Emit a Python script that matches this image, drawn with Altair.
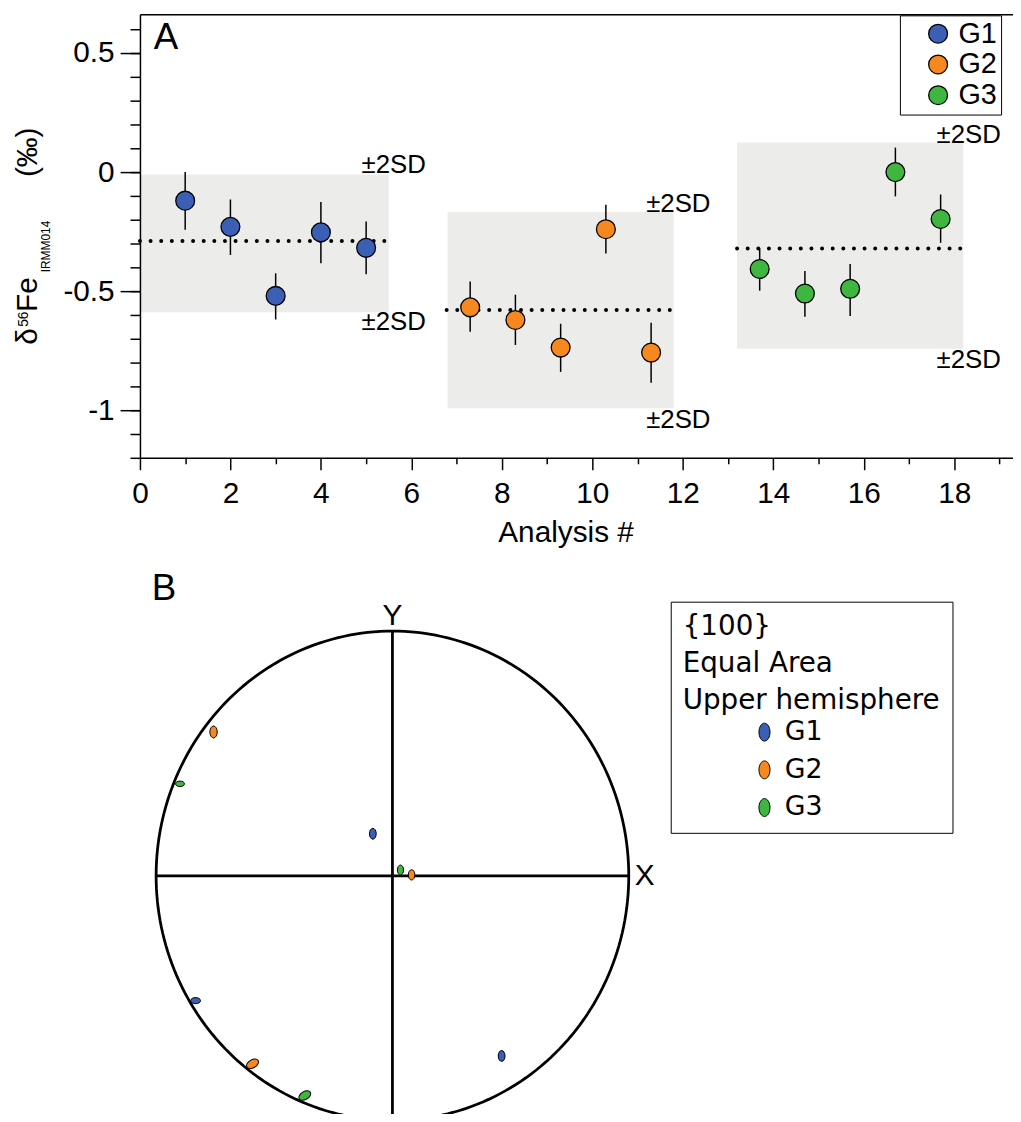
import altair as alt
import numpy as np
import pandas as pd

FONT = "Liberation Sans"
groups = ["G1", "G2", "G3"]
group_colors = ["#3c5fb6", "#f5891f", "#3fb63f"]

# ---------------- Panel A data ----------------
analysis_x = [1, 2, 3, 4, 5, 7.3, 8.3, 9.3, 10.3, 11.3, 13.7, 14.7, 15.7, 16.7, 17.7]
delta56 = [-0.12, -0.23, -0.52, -0.253, -0.318,
           -0.568, -0.621, -0.737, -0.24, -0.758,
           -0.407, -0.51, -0.49, 0.0, -0.197]
err_hi = [0.0, -0.115, -0.425, -0.126, -0.207,
          -0.46, -0.515, -0.637, -0.137, -0.633,
          -0.32, -0.415, -0.386, 0.103, -0.094]
err_lo = [-0.242, -0.348, -0.619, -0.383, -0.429,
          -0.671, -0.726, -0.839, -0.342, -0.885,
          -0.498, -0.608, -0.604, -0.102, -0.297]
point_group = ["G1"] * 5 + ["G2"] * 5 + ["G3"] * 5

mean_val = [-0.289, -0.579, -0.321]
mean_x0 = [0, 6.78, 13.2]
mean_x1 = [5.45, 11.78, 18.19]
sd_top = [-0.01, -0.168, 0.124]
sd_bot = [-0.589, -0.992, -0.742]
box_x0 = [0, 6.8, 13.2]
box_x1 = [5.5, 11.8, 18.2]

sd_label_text = ["±2SD"] * 6
sd_label_x = [4.9, 11.19, 17.61, 4.9, 11.19, 17.61]
sd_label_y = [0.028, -0.133, 0.157, -0.630, -1.040, -0.789]

x_major = [0, 2, 4, 6, 8, 10, 12, 14, 16, 18]
x_minor = [1, 3, 5, 7, 9, 11, 13, 15, 17, 19]
y_major = [-1, -0.5, 0, 0.5]
y_minor = [-1.2, -1.1, -1.0, -0.9, -0.8, -0.7, -0.6, -0.5, -0.4, -0.3, -0.2,
           -0.1, 0.0, 0.1, 0.2, 0.3, 0.4, 0.5, 0.6]

# ---------------- Panel B data (stereonet, unit-circle coordinates) ----------------
pole_x = [-0.757, -0.899, -0.083, 0.034, 0.081, -0.833, -0.592, -0.371, 0.462]
pole_y = [0.588, 0.376, 0.172, 0.024, 0.004, -0.510, -0.768, -0.898, -0.736]
pole_group = ["G2", "G3", "G1", "G3", "G2", "G1", "G2", "G3", "G1"]
pole_len = [12, 9, 11, 10, 10.5, 10, 13, 13, 11]
pole_angle = [0, 90, 0, 0, 0, 90, 60, 60, 0]

ELLIPSE = "M0,-1A0.62,1,0,1,1,0,1A0.62,1,0,1,1,0,-1Z"

# ---------------- tables ----------------
pts = pd.DataFrame({"x": analysis_x, "d": delta56, "hi": err_hi, "lo": err_lo,
                    "group": point_group})
boxes_df = pd.DataFrame({"x0": box_x0, "x1": box_x1, "top": sd_top, "bot": sd_bot})
mean_df = pd.DataFrame({"x0": mean_x0, "x1": mean_x1, "m": mean_val})
sd_df = pd.DataFrame({"x": sd_label_x, "y": sd_label_y, "t": sd_label_text})
poles = pd.DataFrame({"px": pole_x, "py": pole_y, "group": pole_group,
                      "sz": [v * v for v in pole_len], "ang": pole_angle})
theta = np.linspace(0, 2 * np.pi, 241)
circle_df = pd.DataFrame({"cx": np.cos(theta), "cy": np.sin(theta), "i": np.arange(241)})
cross_df = pd.DataFrame({"x0": [-1, 0], "x1": [1, 0], "y0": [0, -1], "y1": [0, 1]})

# ---------------- scales ----------------
xA = alt.Scale(domain=[0, 19.3], range=[0, 880], nice=False, zero=False)
yA = alt.Scale(domain=[-1.2, 0.6625], range=[447, 0], nice=False, zero=False)
xB = alt.Scale(domain=[-1, 1], range=[16.3, 492.7], nice=False, zero=False)
yB = alt.Scale(domain=[-1, 1], range=[1115, 621.7], nice=False, zero=False)

common_axis = dict(domainColor="black", tickColor="black", tickWidth=1.5, domainWidth=1.5,
                   grid=False, zindex=1, labelColor="black")

x_axis_major = alt.Axis(orient="bottom", values=x_major, tickSize=12, labelFontSize=30,
                        labelPadding=9, labelFlush=False, labelOverlap=False, format="d",
                        title="Analysis #", titleFontSize=30, titleFontWeight="normal",
                        titleColor="black", titleX=429, titleY=60, titleBaseline="top",
                        **common_axis)
y_axis_major = alt.Axis(orient="left", values=y_major, tickSize=20, labelFontSize=30,
                        labelPadding=6, labelOverlap=False, title=None,
                        labelExpr="datum.value < 0 ? '-' + format(-datum.value, '~g') : format(datum.value, '~g')",
                        **common_axis)
x_axis_minor = alt.Axis(orient="bottom", values=x_minor, tickSize=6, labels=False,
                        domain=False, title=None, tickColor="black", tickWidth=1.5,
                        grid=False, zindex=1)
y_axis_minor = alt.Axis(orient="left", values=y_minor, tickSize=10, labels=False,
                        domain=False, title=None, tickColor="black", tickWidth=1.5,
                        grid=False, zindex=1)
x_axis_top = alt.Axis(orient="top", ticks=False, labels=False, title=None, grid=False,
                      domainColor="black", domainWidth=1.5, zindex=1)

# ---------------- Panel A layers ----------------
boxes = alt.Chart(boxes_df).mark_rect(color="#ececea").encode(
    x=alt.X("x0:Q", scale=xA, axis=x_axis_major),
    x2="x1:Q",
    y=alt.Y("top:Q", scale=yA, axis=y_axis_major),
    y2="bot:Q",
)

means = alt.Chart(mean_df).mark_rule(color="black", strokeWidth=4, strokeDash=[0.01, 10.7],
                                     strokeCap="round").encode(
    x=alt.X("x0:Q", scale=xA, axis=x_axis_minor),
    x2="x1:Q",
    y=alt.Y("m:Q", scale=yA, axis=y_axis_minor),
)

errbars = alt.Chart(pts).mark_rule(color="black", strokeWidth=1.5).encode(
    x=alt.X("x:Q", scale=xA, axis=x_axis_top),
    y=alt.Y("hi:Q", scale=yA, axis=None),
    y2="lo:Q",
)

legendA = alt.Legend(orient="none", legendX=766, legendY=1, title=None,
                     labelFontSize=29, labelFont=FONT, labelColor="black",
                     symbolType="circle", symbolSize=361, symbolStrokeColor="black",
                     symbolStrokeWidth=1.3, symbolOpacity=1, symbolOffset=20, labelOffset=6,
                     rowPadding=1, padding=4, strokeColor="black", fillColor="white")

points = alt.Chart(pts).mark_circle(size=361, stroke="black", strokeWidth=1.3, opacity=1).encode(
    x=alt.X("x:Q", scale=xA, axis=None),
    y=alt.Y("d:Q", scale=yA, axis=None),
    color=alt.Color("group:N", scale=alt.Scale(domain=groups, range=group_colors),
                    legend=legendA),
)

sd_text = alt.Chart(sd_df).mark_text(align="left", baseline="middle", fontSize=26,
                                     font=FONT, color="black").encode(
    x=alt.X("x:Q", scale=xA, axis=None),
    y=alt.Y("y:Q", scale=yA, axis=None),
    text="t:N",
)

label_A = alt.Chart(pd.DataFrame({"t": ["A"]})).mark_text(
    align="left", baseline="alphabetic", fontSize=37, font=FONT, color="black").encode(
    x=alt.value(14), y=alt.value(35), text="t:N")

# y-axis title, composed of pieces (super/subscripts)
title_pieces = [
    ("δ", -104, 333, 30),
    ("56", -113, 315, 14),
    ("Fe", -104, 300, 30),
    ("IRMM014", -91, 260, 12),
    ("(‰)", -104, 164, 30),
]
title_layers = []
for txt, px, py, fs in title_pieces:
    title_layers.append(
        alt.Chart(pd.DataFrame({"t": [txt]})).mark_text(
            align="left", baseline="alphabetic", angle=270, fontSize=fs, font=FONT,
            color="black").encode(x=alt.value(px), y=alt.value(py), text="t:N"))

# ---------------- Panel B layers ----------------
circle = alt.Chart(circle_df).mark_line(color="black", strokeWidth=2.8).encode(
    x=alt.X("cx:Q", scale=xB, axis=None),
    y=alt.Y("cy:Q", scale=yB, axis=None),
    order="i:Q",
)

cross = alt.Chart(cross_df).mark_rule(color="black", strokeWidth=2.8).encode(
    x=alt.X("x0:Q", scale=xB, axis=None),
    x2="x1:Q",
    y=alt.Y("y0:Q", scale=yB, axis=None),
    y2="y1:Q",
)

legendB = alt.Legend(orient="none", legendX=535, legendY=592,
                     title=["{100}", "Equal Area", "Upper hemisphere"],
                     titleFont="DejaVu Sans", titleFontSize=28, titleFontWeight="normal",
                     titleColor="black", titleLineHeight=37, titlePadding=4, titleLimit=500,
                     titleAnchor="start",
                     labelFont="DejaVu Sans", labelFontSize=27, labelColor="black",
                     symbolType=ELLIPSE, symbolSize=324, symbolStrokeColor="black",
                     symbolStrokeWidth=1, symbolOpacity=1, symbolOffset=69, labelOffset=7,
                     rowPadding=10, padding=12, strokeColor="black", fillColor="white")

pole_marks = alt.Chart(poles).mark_point(filled=True, shape=ELLIPSE, stroke="black",
                                         strokeWidth=1, opacity=1).encode(
    x=alt.X("px:Q", scale=xB, axis=None),
    y=alt.Y("py:Q", scale=yB, axis=None),
    color=alt.Color("group:N", scale=alt.Scale(domain=groups, range=group_colors),
                    legend=legendB),
    size=alt.Size("sz:Q", scale=None),
    angle=alt.Angle("ang:Q", scale=None),
)

axis_names = pd.DataFrame({"t": ["Y", "X"], "x": [0, 1], "y": [1, 0]})
label_Y = alt.Chart(axis_names.iloc[[0]]).mark_text(
    align="center", baseline="alphabetic", fontSize=30, font=FONT, color="black", dy=-6).encode(
    x=alt.X("x:Q", scale=xB, axis=None), y=alt.Y("y:Q", scale=yB, axis=None), text="t:N")
label_X = alt.Chart(axis_names.iloc[[1]]).mark_text(
    align="left", baseline="middle", fontSize=30, font=FONT, color="black", dx=6).encode(
    x=alt.X("x:Q", scale=xB, axis=None), y=alt.Y("y:Q", scale=yB, axis=None), text="t:N")

label_B = alt.Chart(pd.DataFrame({"t": ["B"]})).mark_text(
    align="left", baseline="alphabetic", fontSize=37, font=FONT, color="black").encode(
    x=alt.value(12), y=alt.value(590), text="t:N")

chart = alt.layer(
    boxes, means, errbars, points, sd_text, label_A, *title_layers,
    circle, cross, pole_marks, label_Y, label_X, label_B,
).resolve_scale(
    x="independent", y="independent", color="independent"
).properties(
    width=880, height=447,
    autosize=alt.AutoSizeParams(type="none"),
    padding={"left": 133, "top": 2, "right": 0, "bottom": 657},
    background="white",
).configure(font=FONT).configure_view(strokeWidth=0)

chart.save("out.html", embed_options={"renderer": "svg", "actions": False})
